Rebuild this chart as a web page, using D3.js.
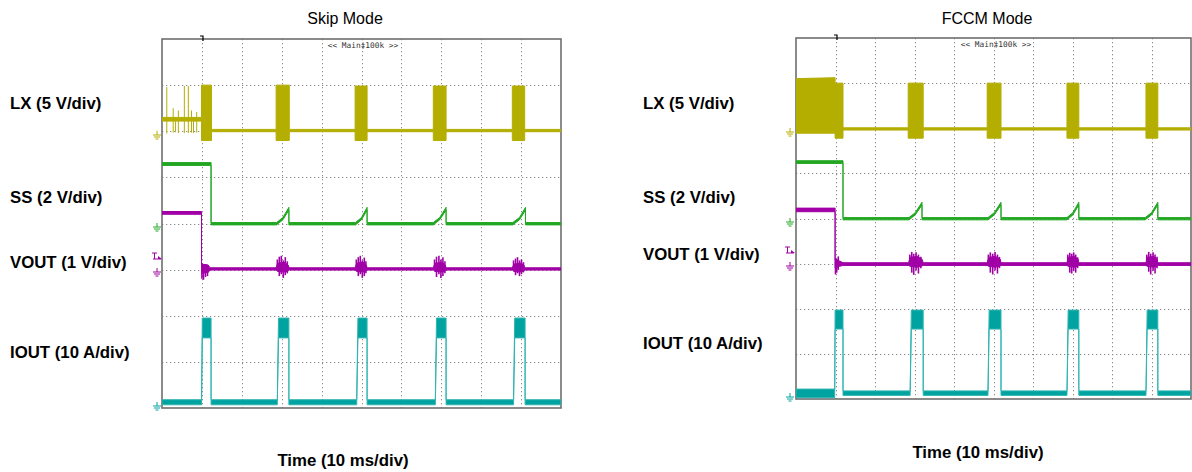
<!DOCTYPE html>
<html><head><meta charset="utf-8">
<script src="https://cdn.jsdelivr.net/npm/d3@7"></script>
<style>
html,body{margin:0;padding:0;background:#fff;}
svg{display:block;font-family:"Liberation Sans",Arial,Helvetica,sans-serif;}
</style></head><body>
<svg id="chart" width="1192" height="472"></svg>
<script>
// ---------------- DATA (time in ms, level in screen divisions from bottom) ----------------
const panelTitles = ["Skip Mode", "FCCM Mode"];
const channelNames = ["LX (5 V/div)", "SS (2 V/div)", "VOUT (1 V/div)", "IOUT (10 A/div)"];
const timeAxisLabel = "Time (10 ms/div)";
const scopeBanner = "<< Main\u2021100k >>";
const timeGridMs = [10, 20, 30, 40, 50, 60, 70, 80, 90];
const levelGridDiv = [1, 2, 3, 4, 5, 6, 7];

// Each trace: [time ms, lower envelope div, upper envelope div]
const skipLX = [
  [0, 6.22, 6.3], [9.9, 6.22, 6.3], [9.9, 5.8, 7.0], [12.4, 5.8, 7.0], [12.4, 5.99, 6.04],
  [28.6, 5.99, 6.04], [28.6, 5.8, 7.0], [31.9, 5.8, 7.0], [31.9, 5.99, 6.04],
  [48.4, 5.99, 6.04], [48.4, 5.8, 6.98], [51.4, 5.8, 6.98], [51.4, 5.99, 6.04],
  [68.0, 5.99, 6.04], [68.0, 5.8, 6.98], [71.2, 5.8, 6.98], [71.2, 5.99, 6.04],
  [87.8, 5.99, 6.04], [87.8, 5.8, 6.98], [90.9, 5.8, 6.98], [90.9, 5.99, 6.04],
  [100, 5.99, 6.04]
];
const skipLXSpikes = [
  [1.2, 5.95, 6.96], [2.8, 5.97, 6.5], [4.1, 5.96, 6.45], [5.6, 5.96, 6.98],
  [6.6, 5.96, 6.98], [7.4, 5.97, 6.45], [8.7, 5.97, 6.42], [3.4, 5.98, 6.3], [7.9, 5.96, 6.3]
];
const skipSS = [
  [0, 5.26, 5.32], [12.3, 5.26, 5.32], [12.3, 3.97, 4.02],
  [28.7, 3.97, 4.02], [30.3, 4.08, 4.13], [31.8, 4.29, 4.35], [31.8, 3.97, 4.02],
  [48.5, 3.97, 4.02], [50.0, 4.08, 4.13], [51.4, 4.29, 4.35], [51.4, 3.97, 4.02],
  [68.0, 3.97, 4.02], [69.6, 4.08, 4.13], [71.2, 4.29, 4.35], [71.2, 3.97, 4.02],
  [87.9, 3.97, 4.02], [89.6, 4.08, 4.13], [91.1, 4.29, 4.35], [91.1, 3.97, 4.02],
  [100, 3.97, 4.02]
];
const skipVOUT = [
  [0, 4.2, 4.26], [9.9, 4.2, 4.26], [9.9, 2.92, 3.12], [11.6, 2.94, 3.1], [12.0, 2.99, 3.04],
  [28.6, 2.99, 3.04], [29.0, 2.96, 3.14], [30.6, 2.95, 3.16], [31.6, 2.97, 3.1], [31.9, 2.99, 3.04],
  [48.4, 2.99, 3.04], [48.8, 2.96, 3.14], [50.4, 2.95, 3.16], [51.2, 2.97, 3.1], [51.4, 2.99, 3.04],
  [68.0, 2.99, 3.04], [68.4, 2.96, 3.14], [70.2, 2.95, 3.16], [71.0, 2.97, 3.1], [71.2, 2.99, 3.04],
  [87.8, 2.99, 3.04], [88.2, 2.96, 3.12], [89.9, 2.95, 3.14], [90.7, 2.97, 3.1], [90.9, 2.99, 3.04],
  [100, 2.99, 3.04]
];
const skipVOUTSpikes = [
  [10.0, 2.8, 3.14], [10.4, 2.78, 3.1], [10.9, 2.84, 3.12], [11.4, 2.86, 3.08],
  [28.9, 3.0, 3.22], [29.4, 2.86, 3.28], [29.9, 2.9, 3.3], [30.4, 2.82, 3.2], [30.9, 2.88, 3.27], [31.4, 2.92, 3.18],
  [48.7, 3.0, 3.22], [49.2, 2.86, 3.27], [49.7, 2.9, 3.3], [50.2, 2.82, 3.2], [50.7, 2.86, 3.26], [51.1, 2.92, 3.18],
  [68.3, 3.0, 3.22], [68.8, 2.84, 3.28], [69.4, 2.9, 3.3], [69.9, 2.82, 3.22], [70.4, 2.86, 3.27], [70.9, 2.92, 3.18],
  [88.1, 3.0, 3.2], [88.6, 2.88, 3.24], [89.1, 2.92, 3.27], [89.6, 2.86, 3.2], [90.1, 2.9, 3.22], [90.6, 2.94, 3.16]
];
const skipIOUT = [
  [0, 0.07, 0.18], [9.9, 0.07, 0.18], [10.1, 1.52, 1.95], [12.3, 1.52, 1.95], [12.3, 0.07, 0.18],
  [28.9, 0.07, 0.18], [29.2, 1.52, 1.95], [31.8, 1.52, 1.95], [31.8, 0.07, 0.18],
  [48.8, 0.07, 0.18], [49.1, 1.52, 1.95], [51.4, 1.52, 1.95], [51.4, 0.07, 0.18],
  [68.5, 0.07, 0.18], [68.8, 1.52, 1.95], [71.2, 1.52, 1.95], [71.2, 0.07, 0.18],
  [88.1, 0.07, 0.18], [88.4, 1.52, 1.95], [91.0, 1.52, 1.95], [91.0, 0.07, 0.18],
  [100, 0.07, 0.18]
];

const fccmLX = [
  [0, 5.89, 7.1], [9.9, 5.89, 7.12], [9.9, 5.78, 7.0], [11.9, 5.78, 7.0], [11.9, 5.96, 6.01],
  [28.4, 5.96, 6.01], [28.4, 5.78, 7.0], [32.2, 5.78, 7.0], [32.2, 5.96, 6.01],
  [48.4, 5.96, 6.01], [48.4, 5.78, 7.0], [51.9, 5.78, 7.0], [51.9, 5.96, 6.01],
  [68.6, 5.96, 6.01], [68.6, 5.78, 7.0], [71.6, 5.78, 7.0], [71.6, 5.96, 6.01],
  [88.6, 5.96, 6.01], [88.6, 5.78, 7.0], [91.6, 5.78, 7.0], [91.6, 5.96, 6.01],
  [100, 5.96, 6.01]
];
const fccmSS = [
  [0, 5.22, 5.28], [11.9, 5.22, 5.28], [11.9, 3.97, 4.02],
  [28.6, 3.97, 4.02], [30.2, 4.08, 4.13], [31.9, 4.3, 4.36], [31.9, 3.97, 4.02],
  [48.6, 3.97, 4.02], [50.2, 4.08, 4.13], [51.9, 4.3, 4.36], [51.9, 3.97, 4.02],
  [68.6, 3.97, 4.02], [70.1, 4.08, 4.13], [71.6, 4.3, 4.36], [71.6, 3.97, 4.02],
  [88.4, 3.97, 4.02], [90.0, 4.08, 4.13], [91.6, 4.3, 4.36], [91.6, 3.97, 4.02],
  [100, 3.97, 4.02]
];
const fccmVOUT = [
  [0, 4.15, 4.23], [9.9, 4.15, 4.23], [9.9, 2.9, 3.1], [11.0, 2.94, 3.06], [11.9, 2.96, 3.02],
  [28.5, 2.96, 3.02], [28.9, 2.94, 3.14], [30.6, 2.92, 3.16], [31.9, 2.95, 3.1], [32.2, 2.96, 3.02],
  [48.4, 2.96, 3.02], [48.8, 2.94, 3.14], [50.5, 2.92, 3.16], [51.7, 2.95, 3.1], [51.9, 2.96, 3.02],
  [68.6, 2.96, 3.02], [68.9, 2.94, 3.14], [70.5, 2.92, 3.16], [71.4, 2.95, 3.1], [71.6, 2.96, 3.02],
  [88.6, 2.96, 3.02], [88.9, 2.94, 3.14], [90.5, 2.92, 3.16], [91.4, 2.95, 3.1], [91.6, 2.96, 3.02],
  [100, 2.96, 3.02]
];
const fccmVOUTSpikes = [
  [10.0, 2.76, 3.12], [10.3, 2.8, 3.1], [10.7, 2.86, 3.16],
  [28.8, 2.95, 3.2], [29.3, 2.8, 3.26], [29.8, 2.75, 3.22], [30.4, 2.85, 3.25], [31.0, 2.78, 3.2], [31.6, 2.9, 3.15],
  [48.7, 2.95, 3.2], [49.2, 2.8, 3.25], [49.8, 2.76, 3.22], [50.4, 2.85, 3.26], [51.0, 2.78, 3.2], [51.5, 2.9, 3.15],
  [68.8, 2.95, 3.2], [69.3, 2.8, 3.24], [69.8, 2.78, 3.22], [70.3, 2.84, 3.25], [70.8, 2.8, 3.2], [71.3, 2.9, 3.14],
  [88.8, 2.95, 3.2], [89.3, 2.82, 3.26], [89.8, 2.76, 3.22], [90.4, 2.84, 3.25], [90.9, 2.78, 3.2], [91.4, 2.9, 3.15]
];
const fccmIOUT = [
  [0, 0.03, 0.22], [9.8, 0.03, 0.22], [9.9, 1.55, 1.97], [11.9, 1.55, 1.97], [11.9, 0.08, 0.18],
  [28.9, 0.08, 0.18], [29.2, 1.55, 1.97], [32.2, 1.55, 1.97], [32.2, 0.08, 0.18],
  [48.6, 0.08, 0.18], [48.9, 1.55, 1.97], [51.9, 1.55, 1.97], [51.9, 0.08, 0.18],
  [68.6, 0.08, 0.18], [68.9, 1.55, 1.97], [71.6, 1.55, 1.97], [71.6, 0.08, 0.18],
  [88.6, 0.08, 0.18], [88.9, 1.55, 1.97], [91.6, 1.55, 1.97], [91.6, 0.08, 0.18],
  [100, 0.08, 0.18]
];

// ---------------- LAYOUT / STYLE ----------------
const colors = { LX: "#b4ae00", SS: "#22a722", VOUT: "#a000a6", IOUT: "#00a3a0" };
const strokeColors = { LX: "#b4ae00", SS: "#22a722", VOUT: "#a000a6", IOUT: "#2fb5b2" };

const panels = [
  { title: panelTitles[0], x0: 162, x1: 561, y0: 39, y1: 408, titleX: 345, titleY: 24,
    labelX: 10, labelY: [109, 203, 268, 358], timeX: 343, timeY: 466, bannerX: 363, bannerY: 48,
    traces: { LX: skipLX, SS: skipSS, VOUT: skipVOUT, IOUT: skipIOUT },
    spikes: { LX: skipLXSpikes, VOUT: skipVOUTSpikes },
    markerX: 157, id: "skip" },
  { title: panelTitles[1], x0: 796, x1: 1191, y0: 38, y1: 399, titleX: 987, titleY: 24,
    labelX: 643, labelY: [109, 203, 260, 349], timeX: 978, timeY: 458, bannerX: 996, bannerY: 47,
    traces: { LX: fccmLX, SS: fccmSS, VOUT: fccmVOUT, IOUT: fccmIOUT },
    spikes: { LX: [], VOUT: fccmVOUTSpikes },
    markerX: 790, id: "fccm" }
];

const svg = d3.select("#chart");
const defs = svg.append("defs");

panels.forEach(p => {
  const x = d3.scaleLinear().domain([0, 100]).range([p.x0, p.x1]);
  const y = d3.scaleLinear().domain([0, 8]).range([p.y1, p.y0]);

  defs.append("clipPath").attr("id", "clip-" + p.id)
    .append("rect").attr("x", p.x0).attr("y", p.y0).attr("width", p.x1 - p.x0).attr("height", p.y1 - p.y0);

  const g = svg.append("g");

  g.append("text").attr("x", p.titleX).attr("y", p.titleY).attr("text-anchor", "middle")
    .attr("font-size", 16).attr("fill", "#000").text(p.title);

  channelNames.forEach((n, i) => {
    g.append("text").attr("x", p.labelX).attr("y", p.labelY[i]).attr("font-size", 16.8)
      .attr("font-weight", "bold").attr("fill", "#000").text(n);
  });

  g.append("text").attr("x", p.timeX).attr("y", p.timeY).attr("text-anchor", "middle")
    .attr("font-size", 16.8).attr("font-weight", "bold").attr("fill", "#000").text(timeAxisLabel);

  const grid = g.append("g").attr("stroke", "#8c8c8c").attr("stroke-width", 1)
    .attr("stroke-dasharray", "1.3,2.7");
  grid.selectAll("line.v").data(timeGridMs).join("line").attr("class", "v")
    .attr("x1", d => Math.round(x(d)) + 0.5).attr("x2", d => Math.round(x(d)) + 0.5)
    .attr("y1", p.y0).attr("y2", p.y1);
  grid.selectAll("line.h").data(levelGridDiv).join("line").attr("class", "h")
    .attr("x1", p.x0).attr("x2", p.x1)
    .attr("y1", d => Math.round(y(d)) + 0.5).attr("y2", d => Math.round(y(d)) + 0.5);

  g.append("rect").attr("x", p.x0).attr("y", p.y0).attr("width", p.x1 - p.x0).attr("height", p.y1 - p.y0)
    .attr("fill", "none").attr("stroke", "#6e6e6e").attr("stroke-width", 1.6);

  g.append("text").attr("x", p.bannerX).attr("y", p.bannerY).attr("text-anchor", "middle")
    .attr("font-family", "'DejaVu Sans Mono', monospace").attr("font-size", 7.8).attr("fill", "#333")
    .text(scopeBanner);

  const tx = Math.round(x(10));
  g.append("path").attr("d", `M${tx - 2},${p.y0 - 3}h3v5`).attr("fill", "none")
    .attr("stroke", "#000").attr("stroke-width", 1.2);

  const tg = g.append("g").attr("clip-path", `url(#clip-${p.id})`);
  const area = d3.area().x(d => x(d[0])).y0(d => y(d[1])).y1(d => y(d[2]));
  ["LX", "SS", "VOUT", "IOUT"].forEach(k => {
    tg.append("path").datum(p.traces[k]).attr("d", area)
      .attr("fill", colors[k]).attr("stroke", strokeColors[k]).attr("stroke-width", 1)
      .attr("stroke-linejoin", "round");
  });
  Object.keys(p.spikes).forEach(k => {
    tg.selectAll("line.spk-" + k).data(p.spikes[k]).join("line").attr("class", "spk-" + k)
      .attr("x1", d => x(d[0])).attr("x2", d => x(d[0]))
      .attr("y1", d => y(d[1])).attr("y2", d => y(d[2]))
      .attr("stroke", colors[k]).attr("stroke-width", k === "VOUT" ? 1.6 : 1);
  });

  const gnd = (cy, col) => {
    const mx = p.markerX;
    g.append("path").attr("d",
      `M${mx},${cy - 4}v4M${mx - 4},${cy}h8M${mx - 3},${cy + 2}h6M${mx - 1.5},${cy + 4}h3`)
      .attr("fill", "none").attr("stroke", col).attr("stroke-width", 1);
  };
  gnd(Math.round(y(6)) + 4, colors.LX);
  gnd(Math.round(y(4)) + 3, colors.SS);
  gnd(Math.round(y(3)) + 2, colors.VOUT);
  gnd(Math.round(y(0)) - 2, colors.IOUT);
  const ty = Math.round(y(3.3));
  g.append("path").attr("d", `M${p.markerX - 5},${ty - 3}h5M${p.markerX - 2.5},${ty - 3}v6M${p.markerX - 4},${ty + 3}h8`)
    .attr("fill", "none").attr("stroke", colors.VOUT).attr("stroke-width", 1);
  g.append("path").attr("d", `M${p.markerX + 1},${ty}l4,3h-4z`).attr("fill", colors.VOUT);
});
</script>
</body></html>
